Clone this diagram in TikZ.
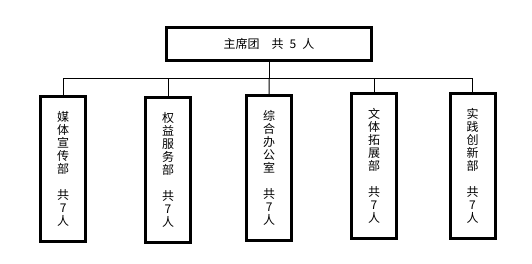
\documentclass[tikz,border=0pt]{standalone}
\usepackage{fontspec}
\setmainfont{Noto Sans CJK SC}
\usetikzlibrary{positioning}

\begin{document}
\begin{tikzpicture}[x=0.75pt, y=-0.75pt, thick,
    head/.style={draw, line width=2.25pt, minimum width=153.75pt, minimum height=24.75pt, inner sep=0pt, font=\fontsize{9}{9.75}\selectfont},
    dept/.style={draw, line width=2.25pt, minimum width=33.75pt, minimum height=108.75pt, inner sep=0pt, align=center, font=\fontsize{9}{9.75}\selectfont},
    link/.style={line width=0.75pt}]
        \useasboundingbox (0,0) rectangle (532,264);
        % Presidium
        \node [head] (top) at (269,44.2) {主席团\quad 共\enspace 5\enspace 人};
        % Departments
        \node [dept] (media) at (63.2,169.2) {媒\\体\\宣\\传\\部\\[9.75pt]共\\7\\人};
        \node [dept] (rights) at (168,169.5) {权\\益\\服\\务\\部\\[9.75pt]共\\7\\人};
        \node [dept] (office) at (269.2,168) {综\\合\\办\\公\\室\\[9.75pt]共\\7\\人};
        \node [dept] (culture) at (374,166.2) {文\\体\\拓\\展\\部\\[9.75pt]共\\7\\人};
        \node [dept] (practice) at (472.5,166.2) {实\\践\\创\\新\\部\\[9.75pt]共\\7\\人};
        % Tree lines
        \coordinate (bus) at (269,78.5);
        \draw [link] (top) -- (bus);
        \draw [link] (bus) -| (media);
        \draw [link] (bus) -| (rights);
        \draw [link] (bus) -- (office);
        \draw [link] (bus) -| (culture);
        \draw [link] (bus) -| (practice);
    \end{tikzpicture}
\end{document}
